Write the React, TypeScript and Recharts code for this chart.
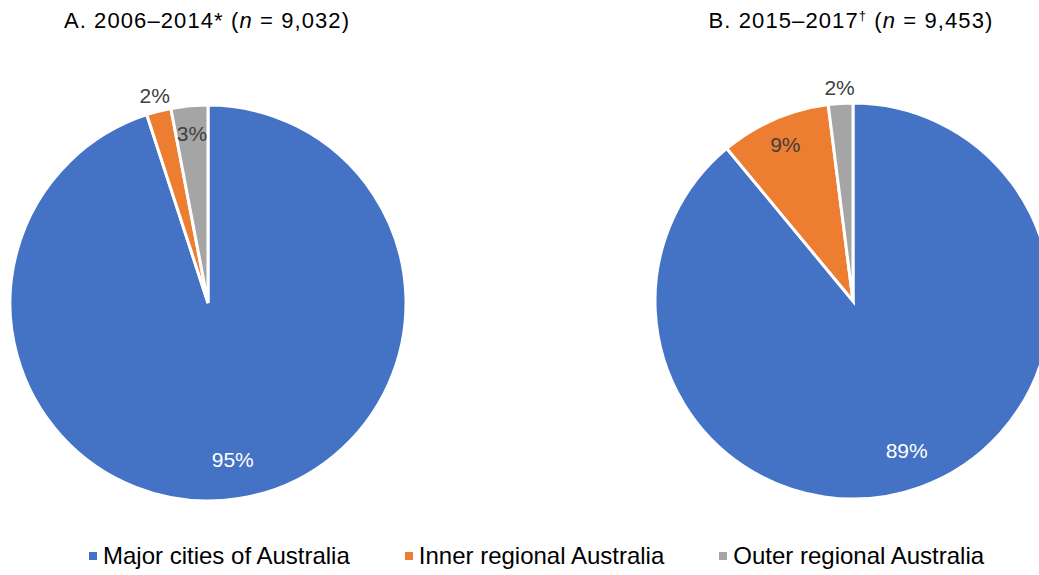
import React from 'react';
import { PieChart, Pie, Cell } from 'recharts';

const categories = ['Major cities of Australia', 'Inner regional Australia', 'Outer regional Australia'];
const colors = ['#4472C4', '#ED7D31', '#A5A5A5'];
const periodA = [95, 2, 3];
const periodB = [89, 9, 2];
const titleA = { prefix: 'A. 2006–2014*', n: '9,032' };
const titleB = { prefix: 'B. 2015–2017', mark: '†', n: '9,453' };

const FONT = '"Liberation Sans", Arial, sans-serif';
const RADIAN = Math.PI / 180;

const toRows = (vals: number[]) => categories.map((name, i) => ({ name, value: vals[i] }));

const renderLabel = (props: any) => {
  const { cx, cy, midAngle, outerRadius, percent, index, value } = props;
  const outside = percent < 0.025;
  const r = outside ? outerRadius + 16 : index === 0 ? outerRadius * 0.8 : outerRadius * 0.86;
  const x = cx + r * Math.cos(-midAngle * RADIAN);
  const y = cy + r * Math.sin(-midAngle * RADIAN);
  const fill = !outside && index === 0 ? '#ffffff' : '#404040';
  return (
    <text x={x} y={y} fill={fill} fontSize={21} fontFamily={FONT} textAnchor="middle" dominantBaseline="central">
      {value}%
    </text>
  );
};

const Title = ({ left, children }: { left: number; children: React.ReactNode }) => (
  <div
    style={{
      position: 'absolute',
      left: left - 200,
      width: 400,
      top: 8,
      textAlign: 'center',
      fontSize: 22,
      letterSpacing: 1.1,
      fontFamily: FONT,
      color: '#000',
      whiteSpace: 'nowrap',
    }}
  >
    {children}
  </div>
);

export default function App() {
  return (
    <div style={{ position: 'absolute', left: 0, top: 0, width: 1039, height: 575, background: '#fff', overflow: 'hidden' }}>
      <Title left={207}>
        {titleA.prefix} (<i>n</i> = {titleA.n})
      </Title>
      <Title left={851}>
        {titleB.prefix}
        <sup style={{ fontSize: 13 }}>{titleB.mark}</sup> (<i>n</i> = {titleB.n})
      </Title>
      <div style={{ position: 'absolute', left: 0, top: 0 }}>
        <PieChart width={1039} height={530}>
          <Pie
            data={toRows(periodA)}
            dataKey="value"
            cx={203}
            cy={298}
            outerRadius={198}
            startAngle={90}
            endAngle={-270}
            stroke="#ffffff"
            strokeWidth={3}
            label={renderLabel}
            labelLine={false}
            isAnimationActive={false}
          >
            {periodA.map((_, i) => (
              <Cell key={i} fill={colors[i]} />
            ))}
          </Pie>
          <Pie
            data={toRows(periodB)}
            dataKey="value"
            cx={848}
            cy={296}
            outerRadius={198}
            startAngle={90}
            endAngle={-270}
            stroke="#ffffff"
            strokeWidth={3}
            label={renderLabel}
            labelLine={false}
            isAnimationActive={false}
          >
            {periodB.map((_, i) => (
              <Cell key={i} fill={colors[i]} />
            ))}
          </Pie>
        </PieChart>
      </div>
      <div
        style={{
          position: 'absolute',
          top: 542,
          left: 89,
          display: 'flex',
          fontFamily: FONT,
          fontSize: 24,
          color: '#000',
        }}
      >
        {categories.map((c, i) => (
          <div key={c} style={{ display: 'flex', alignItems: 'center', whiteSpace: 'nowrap', marginRight: 55 }}>
            <span style={{ display: 'inline-block', width: 8, height: 8, background: colors[i], marginRight: 6 }} />
            {c}
          </div>
        ))}
      </div>
    </div>
  );
}
